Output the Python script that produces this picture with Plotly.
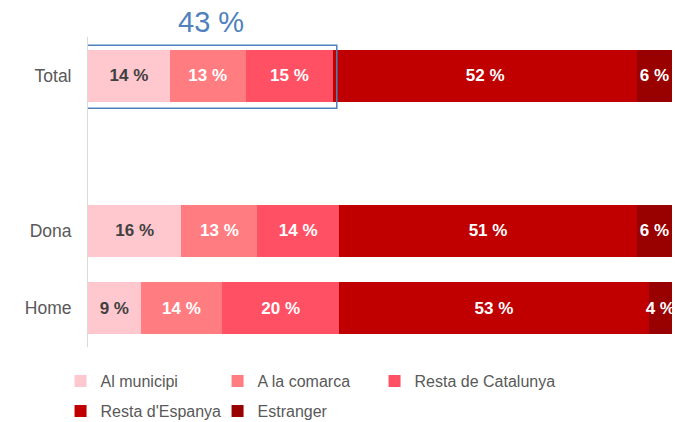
import plotly.graph_objects as go

categories = ["Total", "Dona", "Home"]
axis_order = ["Total", " ", "Dona", "Home"]
series_names = ["Al municipi", "A la comarca", "Resta de Catalunya", "Resta d'Espanya", "Estranger"]
al_municipi = [14, 16, 9]
a_la_comarca = [13, 13, 14]
resta_catalunya = [15, 14, 20]
resta_espanya = [52, 51, 53]
estranger = [6, 6, 4]
highlight_label = "43 %"

series_values = [al_municipi, a_la_comarca, resta_catalunya, resta_espanya, estranger]
colors = ["#FFC7CE", "#FF7C80", "#FF5064", "#C00000", "#990000"]
text_colors = ["#404040", "white", "white", "white", "white"]
legend_ids = ["legend", "legend", "legend3", "legend2", "legend2"]

FONT = "Liberation Sans, Arial"

fig = go.Figure()
for name, vals, col, tc, lg in zip(series_names, series_values, colors, text_colors, legend_ids):
    fig.add_trace(go.Bar(
        y=categories, x=vals, name=name, orientation="h",
        marker=dict(color=col, line=dict(width=0)),
        text=[f"<b>{v} %</b>" for v in vals],
        textposition="inside", insidetextanchor="middle", textangle=0,
        textfont=dict(family=FONT, size=17, color=tc),
        cliponaxis=False,
        hoverinfo="skip", legend=lg,
    ))

total_first3 = sum(s[0] for s in series_values[:3])

fig.add_shape(type="rect", xref="x", yref="y",
              x0=-0.2, x1=total_first3 + 0.6, y0=-0.395, y1=0.42,
              line=dict(color="#4F81BD", width=1.5), fillcolor="rgba(0,0,0,0)")
fig.add_annotation(x=total_first3 / 2, xref="x", y=0.99, yref="paper",
                   yanchor="bottom", text=highlight_label, showarrow=False,
                   font=dict(family=FONT, size=29, color="#4F81BD"))

legend_common = dict(orientation="h", xanchor="left", yanchor="middle",
                     entrywidth=112, entrywidthmode="pixels", traceorder="normal",
                     bgcolor="rgba(0,0,0,0)",
                     font=dict(family=FONT, size=16, color="#595959"))

fig.update_layout(
    width=675, height=422,
    margin=dict(l=88, r=3, t=37, b=75, autoexpand=False),
    barmode="stack", bargap=0.33,
    plot_bgcolor="white", paper_bgcolor="white",
    uniformtext=dict(minsize=17, mode="show"),
    xaxis=dict(range=[0, 100], visible=False),
    yaxis=dict(type="category", categoryorder="array", categoryarray=axis_order,
               range=[3.5, -0.5], showline=True, linecolor="#D9D9D9", linewidth=1,
               showgrid=False, ticks="", ticklen=0, automargin=False,
               ticklabelstandoff=12,
               tickfont=dict(family=FONT, size=17.5, color="#595959")),
    legend=dict(x=-0.047, y=-0.11, **legend_common),
    legend2=dict(x=-0.047, y=-0.207, **legend_common),
    legend3=dict(x=-0.047 + 314 / 584, y=-0.11,
                 **{k: v for k, v in legend_common.items() if k not in ("entrywidth", "entrywidthmode")}),
    showlegend=True,
)

fig.write_html("out.html",
               config={"displayModeBar": False},
               post_script="document.body.style.margin='0';document.body.style.overflow='hidden';")
